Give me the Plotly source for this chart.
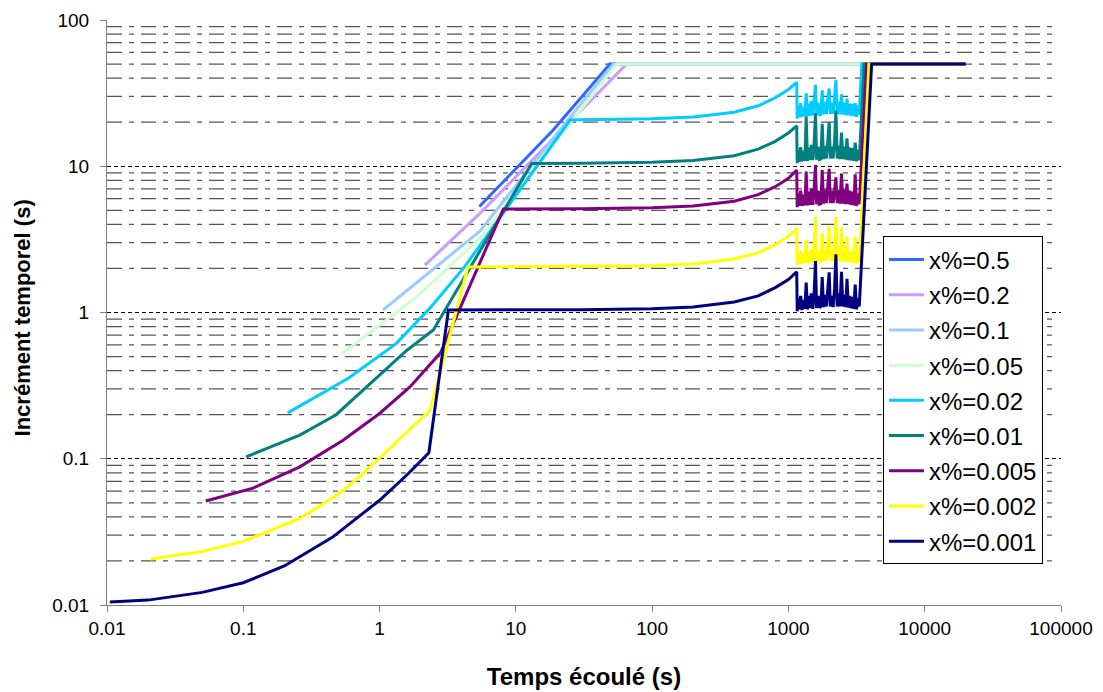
import plotly.graph_objects as go

# ---------------- data ----------------
LABELS = ["x%=0.5", "x%=0.2", "x%=0.1", "x%=0.05", "x%=0.02",
          "x%=0.01", "x%=0.005", "x%=0.002", "x%=0.001"]
COLORS = ["#3366FF", "#CC99FF", "#99CCFF", "#CCFFCC", "#00CCFF",
          "#008080", "#800080", "#FFFF00", "#000080"]

X_TICKS = [0.01, 0.1, 1, 10, 100, 1000, 10000, 100000]
X_TICKTEXT = ["0.01", "0.1", "1", "10", "100", "1000", "10000", "100000"]
Y_TICKS = [0.01, 0.1, 1, 10, 100]
Y_TICKTEXT = ["0.01", "0.1", "1", "10", "100"]
Y_MINOR = [0.02, 0.03, 0.04, 0.05, 0.06, 0.07, 0.08, 0.09,
           0.2, 0.3, 0.4, 0.5, 0.6, 0.7, 0.8, 0.9,
           2, 3, 4, 5, 6, 7, 8, 9,
           20, 30, 40, 50, 60, 70, 80, 90]

# series reaching the 50 s ceiling directly
T_05 = [5.4, 18.8, 49, 20000]
DT_05 = [5.3, 17.7, 50, 50]
T_02 = [2.15, 5.45, 65, 20000]
DT_02 = [2.11, 4.76, 50, 50]
T_01 = [1.06, 5.45, 21, 52, 20000]
DT_01 = [1.04, 3.6, 17.7, 50, 50]
T_005 = [0.527, 1.87, 5.45, 22.4, 55, 20000]
DT_005 = [0.52, 1.28, 3.21, 17.3, 50, 50]

# rising part of the other series
T_RISE_002 = [0.212, 0.59, 1.33, 2.4, 4.2, 10.7, 25]
DT_RISE_002 = [0.206, 0.355, 0.615, 1.1, 2.05, 6.9, 20.7]
T_RISE_001 = [0.105, 0.26, 0.48, 0.9, 1.58, 2.48, 13.06]
DT_RISE_001 = [0.103, 0.145, 0.20, 0.34, 0.55, 0.76, 10.45]
T_RISE_0005 = [0.053, 0.118, 0.26, 0.54, 1.0, 1.67, 2.8, 8.1]
DT_RISE_0005 = [0.0514, 0.063, 0.088, 0.134, 0.204, 0.31, 0.53, 5.1]
T_RISE_0002 = [0.0209, 0.05, 0.1, 0.26, 0.51, 0.72, 1.0, 2.35, 4.45]
DT_RISE_0002 = [0.0206, 0.0232, 0.0272, 0.039, 0.058, 0.076, 0.101, 0.215, 2.05]
T_RISE_0001 = [0.0105, 0.02, 0.05, 0.1, 0.2, 0.45, 1.0, 1.6, 2.3, 3.2]
DT_RISE_0001 = [0.0105, 0.0108, 0.0122, 0.0142, 0.0185, 0.029, 0.052, 0.078, 0.11, 1.04]

# plateau (slowly growing) part
T_PLATEAU = [30, 100, 200, 400, 600, 800, 1000, 1150]
DT_PLAT_002 = [20.8, 21.1, 21.7, 23.4, 25.9, 29.4, 33.5, 37.5]
DT_PLAT_001 = [10.5, 10.65, 10.95, 11.8, 13.1, 14.8, 16.9, 18.9]
DT_PLAT_0005 = [5.13, 5.2, 5.35, 5.76, 6.4, 7.25, 8.26, 9.4]
DT_PLAT_0002 = [2.06, 2.09, 2.15, 2.32, 2.56, 2.91, 3.32, 3.75]
DT_PLAT_0001 = [1.045, 1.06, 1.09, 1.18, 1.3, 1.48, 1.68, 1.9]

# oscillating part
T_OSC = [1160, 1180, 1200, 1230, 1260, 1290, 1320, 1350, 1380, 1410, 1440, 1470,
         1510, 1540, 1580, 1610, 1650, 1690, 1730, 1770, 1810, 1850, 1900, 1940,
         1990, 2030, 2080, 2130, 2180, 2230, 2280, 2340, 2390, 2450, 2510, 2570,
         2630, 2690, 2750, 2820, 2880, 2950, 3020, 3090, 3160, 3240, 3310]
DT_OSC_002 = [21.2, 26.0, 21.6, 27.0, 21.8, 25.5, 22.0, 31.5, 22.0, 26.8, 22.2, 28.0,
              22.3, 27.0, 36.0, 22.4, 27.2, 22.5, 22.6, 33.0, 22.6, 27.6, 22.8, 28.4,
              34.0, 22.8, 27.2, 22.8, 29.6, 39.0, 22.8, 27.6, 22.6, 31.0, 22.6, 27.2,
              22.4, 29.0, 22.3, 26.8, 22.2, 26.6, 22.0, 27.0, 21.8, 26.0, 22.5]
DT_OSC_001 = [10.5, 13.0, 10.7, 13.5, 10.8, 12.8, 10.9, 22.0, 10.9, 13.4, 11.0, 14.0,
              11.0, 13.5, 23.0, 11.1, 13.6, 11.1, 11.2, 19.5, 11.2, 13.8, 11.3, 14.2,
              20.0, 11.3, 13.6, 11.3, 14.8, 24.0, 11.3, 13.8, 11.2, 17.0, 11.2, 13.6,
              11.1, 15.5, 11.0, 13.4, 11.0, 13.3, 10.9, 14.5, 10.8, 13.0, 11.0]
DT_OSC_0005 = [5.25, 6.5, 5.35, 6.8, 5.35, 6.4, 5.4, 9.2, 5.4, 6.7, 5.45, 7.0,
               5.45, 6.7, 10.2, 5.5, 6.8, 5.5, 5.55, 9.4, 5.55, 6.9, 5.6, 7.1,
               9.6, 5.6, 6.8, 5.6, 7.4, 8.4, 5.6, 6.9, 5.55, 8.9, 5.55, 6.9,
               5.5, 7.6, 5.5, 6.8, 5.45, 6.7, 5.4, 8.8, 5.35, 6.5, 5.5]
DT_OSC_0002 = [2.12, 2.55, 2.16, 2.65, 2.15, 2.5, 2.18, 3.15, 2.17, 2.6, 2.2, 2.7,
               2.2, 2.6, 4.5, 2.22, 2.65, 2.23, 2.25, 3.5, 2.24, 2.7, 2.25, 2.75,
               3.9, 2.26, 2.65, 2.25, 2.9, 4.5, 2.25, 2.7, 2.24, 3.8, 2.24, 2.68,
               2.23, 3.3, 2.21, 2.62, 2.2, 2.6, 2.18, 3.3, 2.16, 2.5, 2.2]
DT_OSC_0001 = [1.02, 1.25, 1.05, 1.3, 1.04, 1.22, 1.06, 1.6, 1.05, 1.3, 1.07, 1.35,
               1.06, 1.28, 2.25, 1.07, 1.3, 1.08, 1.1, 1.75, 1.09, 1.32, 1.1, 1.36,
               1.88, 1.1, 1.3, 1.09, 1.45, 2.5, 1.1, 1.35, 1.1, 1.9, 1.1, 1.32,
               1.09, 1.7, 1.08, 1.3, 1.07, 1.28, 1.06, 1.55, 1.05, 1.25, 1.1]

# final jump to the 50 s ceiling
T_END_002 = [3450, 20000]
T_END_001 = [3600, 20000]
T_END_0005 = [3750, 20000]
T_END_0002 = [3900, 20000]
T_END_0001 = [4080, 20000]
DT_END = [50, 50]

# ---------------- assemble series ----------------
series_t = [
    T_05, T_02, T_01, T_005,
    T_RISE_002 + T_PLATEAU + T_OSC + T_END_002,
    T_RISE_001 + T_PLATEAU + T_OSC + T_END_001,
    T_RISE_0005 + T_PLATEAU + T_OSC + T_END_0005,
    T_RISE_0002 + T_PLATEAU + T_OSC + T_END_0002,
    T_RISE_0001 + T_PLATEAU + T_OSC + T_END_0001,
]
series_dt = [
    DT_05, DT_02, DT_01, DT_005,
    DT_RISE_002 + DT_PLAT_002 + DT_OSC_002 + DT_END,
    DT_RISE_001 + DT_PLAT_001 + DT_OSC_001 + DT_END,
    DT_RISE_0005 + DT_PLAT_0005 + DT_OSC_0005 + DT_END,
    DT_RISE_0002 + DT_PLAT_0002 + DT_OSC_0002 + DT_END,
    DT_RISE_0001 + DT_PLAT_0001 + DT_OSC_0001 + DT_END,
]

FONT = "Liberation Sans, Arial, sans-serif"

fig = go.Figure()
for i, (name, color, tx, dy) in enumerate(zip(LABELS, COLORS, series_t, series_dt)):
    fig.add_trace(go.Scatter(
        x=tx, y=dy, mode="lines", name=name, legendgroup=f"g{i}",
        line=dict(color=color, width=3),
    ))

# minor dashed gridlines
shapes = []
for v in Y_MINOR:
    shapes.append(dict(type="line", xref="paper", x0=0, x1=0.993, yref="y", y0=v, y1=v,
                       line=dict(color="#555555", width=1.3, dash="15px,7px,5px,7px"),
                       layer="below"))

# y-axis title as a rotated annotation centred on the plot area
annotations = [dict(
    text="Incrément temporel (s)", textangle=-90,
    xref="paper", yref="paper", x=-0.089, y=0.49,
    xanchor="center", yanchor="middle", showarrow=False,
    font=dict(family=FONT, size=22, color="black", weight="bold"),
)]

# the page body has an 8px default margin: size the figure so that the
# plot area lands where it is in the reference
fig.update_layout(
    width=1095, height=684,
    margin=dict(l=99, r=42, t=12, b=87, autoexpand=False),
    paper_bgcolor="white", plot_bgcolor="white",
    font=dict(family=FONT, color="black"),
    shapes=shapes,
    annotations=annotations,
    showlegend=True,
    legend=dict(
        x=0.8134, y=0.6300, xanchor="left", yanchor="top",
        bgcolor="white", bordercolor="black", borderwidth=1,
        font=dict(family=FONT, size=24, color="black"),
        tracegroupgap=1, traceorder="grouped", itemwidth=35,
    ),
    xaxis=dict(
        type="log", range=[-2, 5], automargin=False,
        tickvals=X_TICKS, ticktext=X_TICKTEXT,
        showgrid=False, zeroline=False,
        showline=True, linecolor="#808080", linewidth=1,
        ticks="outside", ticklen=6, tickcolor="#808080",
        tickfont=dict(family=FONT, size=19, color="black"),
        title=dict(text="Temps écoulé (s)", standoff=30,
                   font=dict(family=FONT, size=24, color="black", weight="bold")),
    ),
    yaxis=dict(
        type="log", range=[-2, 2], automargin=False,
        tickvals=Y_TICKS, ticktext=Y_TICKTEXT,
        showgrid=True, gridcolor="black", gridwidth=1, griddash="4px,3px",
        zeroline=False,
        showline=True, linecolor="#808080", linewidth=1,
        ticks="outside", ticklen=6, tickcolor="#808080",
        ticklabelstandoff=7,
        tickfont=dict(family=FONT, size=19, color="black"),
    ),
)

fig.write_html("out.html")
